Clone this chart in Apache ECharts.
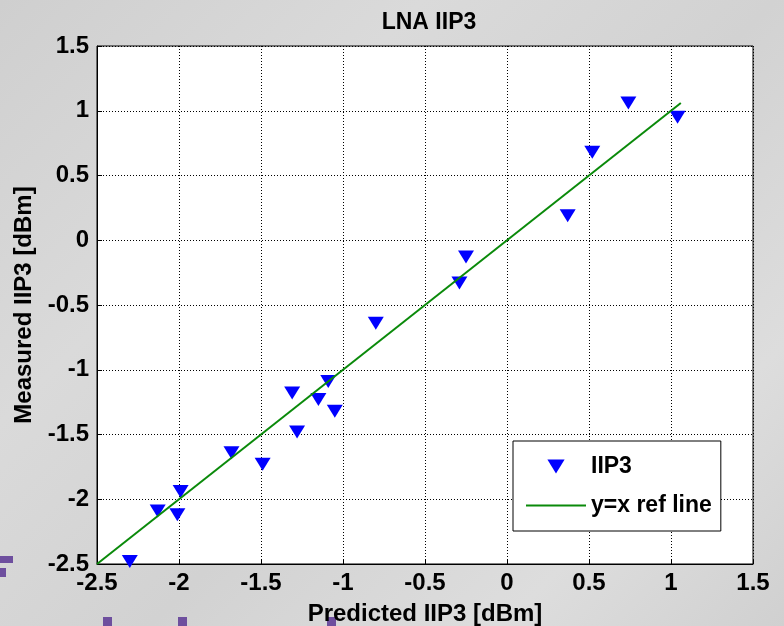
<!DOCTYPE html>
<html>
<head>
<meta charset="utf-8">
<title>LNA IIP3</title>
<script src="https://cdn.jsdelivr.net/npm/echarts/dist/echarts.min.js"></script>
<style>
  html, body {
    margin: 0;
    padding: 0;
    width: 784px;
    height: 626px;
    overflow: hidden;
    background: linear-gradient(135deg, #cfcfcf 0%, #dadada 30%, #d2d2d2 55%, #dddddd 80%, #d0d0d0 100%);
  }
  #chart {
    width: 784px;
    height: 626px;
  }
</style>
</head>
<body>
<div id="chart"></div>
<script>
// values
const predicted = [-2.30, -2.13, -2.01, -1.99, -1.68, -1.49, -1.31, -1.28, -1.15, -1.09, -1.05, -0.80, -0.29, -0.25, 0.37, 0.52, 0.74, 1.04]
const measured = [-2.48, -2.09, -2.12, -1.94, -1.64, -1.73, -1.18, -1.48, -1.23, -1.09, -1.32, -0.64, -0.33, -0.13, 0.19, 0.68, 1.06, 0.95]
const refX = [-2.5, 1.06]
const axisTicks = [-2.5, 1.5, 0.5] // min, max, interval (both axes)

const font = '"Liberation Sans", Arial, sans-serif'
const green = '#0a8a0a'

const chart = echarts.init(document.getElementById('chart'))

const axisCommon = {
  type: 'value',
  min: axisTicks[0],
  max: axisTicks[1],
  interval: axisTicks[2],
  axisLine: { show: true, onZero: false, lineStyle: { color: '#000', width: 1 } },
  axisTick: { show: true, inside: true, length: 5, lineStyle: { color: '#000' } },
  splitLine: { show: true, lineStyle: { color: '#000', type: [1, 2], width: 1 } },
  nameTextStyle: { fontFamily: font, fontWeight: 'bold', fontSize: 24, color: '#000' }
}

chart.setOption({
  animation: false,
  title: {
    text: 'LNA IIP3',
    left: 424,
    textAlign: 'center',
    top: 6,
    textStyle: { fontFamily: font, fontWeight: 'bold', fontSize: 23, color: '#000' }
  },
  grid: {
    left: 97,
    right: 31,
    top: 46,
    bottom: 62,
    outerBoundsMode: 'none',
    containLabel: false,
    show: true,
    backgroundColor: '#fff',
    borderColor: '#000',
    borderWidth: 1
  },
  xAxis: Object.assign({}, axisCommon, {
    name: 'Predicted IIP3 [dBm]',
    nameLocation: 'middle',
    nameGap: 38,
    axisLabel: { fontFamily: font, fontWeight: 'bold', fontSize: 24, color: '#000', margin: 7 }
  }),
  yAxis: Object.assign({}, axisCommon, {
    name: 'Measured IIP3 [dBm]',
    nameLocation: 'middle',
    nameGap: 48,
    axisLabel: { fontFamily: font, fontWeight: 'bold', fontSize: 24, color: '#000', margin: 8 }
  }),
  legend: {
    orient: 'vertical',
    left: 513,
    top: 441,
    backgroundColor: '#fff',
    borderColor: '#000',
    borderWidth: 1,
    borderRadius: 0,
    padding: [14, 9, 14, 13],
    itemWidth: 60,
    itemHeight: 14,
    itemGap: 16,
    symbolRotate: 0,
    symbolKeepAspect: true,
    textStyle: { fontFamily: font, fontWeight: 'bold', fontSize: 23, color: '#000' },
    data: [
      { name: 'IIP3', icon: 'path://M0,0L16,0L8,13Z', itemStyle: { color: '#0000ff' } },
      { name: 'y=x ref line', icon: 'path://M0,0H60V2H0Z', itemStyle: { color: green } }
    ]
  },
  graphic: [
    // bits of the purple slide lettering peeking out behind the chart
    { type: 'rect', shape: { x: 0, y: 556, width: 13, height: 7 }, style: { fill: '#6e4f9e' }, z: -1 },
    { type: 'rect', shape: { x: 0, y: 568, width: 6, height: 9 }, style: { fill: '#6e4f9e' }, z: -1 },
    { type: 'rect', shape: { x: 103, y: 617, width: 9, height: 9 }, style: { fill: '#6e4f9e' }, z: -1 },
    { type: 'rect', shape: { x: 178, y: 617, width: 9, height: 9 }, style: { fill: '#6e4f9e' }, z: -1 },
    { type: 'rect', shape: { x: 327, y: 617, width: 9, height: 9 }, style: { fill: '#6e4f9e' }, z: -1 }
  ],
  series: [
    {
      name: 'IIP3',
      type: 'scatter',
      symbol: 'triangle',
      symbolRotate: 180,
      symbolSize: [16, 13],
      itemStyle: { color: '#0000ff', opacity: 1 },
      data: predicted.map((x, i) => [x, measured[i]]),
      z: 3
    },
    {
      name: 'y=x ref line',
      type: 'line',
      symbol: 'none',
      lineStyle: { color: green, width: 2 },
      itemStyle: { color: green },
      data: refX.map(x => [x, x]),
      z: 4
    }
  ]
})
</script>
</body>
</html>
